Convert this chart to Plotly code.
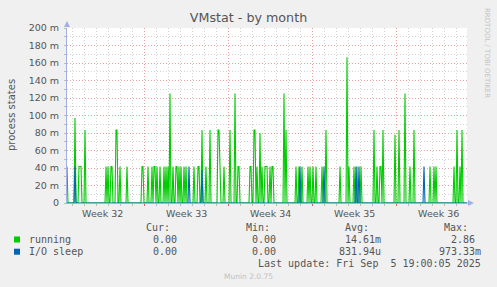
import plotly.graph_objects as go
import pandas as pd

# ---------------- data ----------------
START = pd.Timestamp("2025-08-03 12:40")
N_BINS = 401                      # 2-hour consolidated samples
BIN_HOURS = 2
END = START + pd.Timedelta(hours=BIN_HOURS * (N_BINS - 1))

# running spikes: (sample index, value in milli-processes)
running_spikes = [
    (0, 41.7), (8, 97.0), (12, 41.7), (13, 41.7), (14, 41.7), (18, 83.3),
    (39, 41.7), (41, 41.7), (44, 41.7), (45, 41.7), (49, 83.3), (50, 83.3),
    (53, 41.7), (60, 41.7), (75, 41.7), (76, 41.7), (81, 41.7), (85, 41.7),
    (87, 41.7), (88, 41.7), (90, 41.7), (93, 41.7), (97, 41.7), (99, 41.7),
    (101, 41.7), (103, 125.0), (106, 41.7), (109, 41.7), (110, 41.7),
    (112, 41.7), (114, 41.7), (117, 41.7), (119, 41.7), (127, 41.7),
    (131, 41.7), (132, 41.7), (135, 83.3), (139, 41.7), (143, 83.3),
    (151, 83.3), (152, 83.3), (153, 41.7), (157, 41.7), (163, 83.3),
    (168, 125.0), (171, 41.7), (172, 41.7), (183, 41.7), (184, 41.7),
    (187, 83.3), (188, 83.3), (190, 41.7), (193, 80.0), (195, 41.7),
    (198, 41.7), (199, 41.7), (200, 41.7), (203, 41.7), (205, 41.7),
    (206, 41.7), (217, 125.0), (219, 83.3), (229, 41.7), (232, 41.7),
    (235, 41.7), (241, 41.7), (243, 41.7), (246, 41.7), (249, 41.7),
    (255, 41.7), (259, 83.3), (273, 41.7), (280, 166.7), (282, 41.7),
    (287, 41.7), (290, 41.7), (294, 41.7), (307, 83.3), (310, 41.7),
    (313, 41.7), (314, 41.7), (316, 83.3), (328, 78.0), (332, 83.3),
    (338, 125.0), (343, 41.7), (347, 83.3), (363, 41.7), (367, 41.7),
    (369, 41.7), (387, 41.7), (390, 83.3), (393, 41.7), (395, 83.3),
]
# I/O sleep spikes: (sample index, value in milli-processes)
iosleep_spikes = [
    (8, 41.7), (122, 41.7), (135, 38.0), (233, 41.7), (257, 41.7),
    (289, 41.7), (292, 41.7), (357, 41.7),
]

y_tick_values = [0, 20, 40, 60, 80, 100, 120, 140, 160, 180, 200]
y_tick_labels = ["0", "20 m", "40 m", "60 m", "80 m", "100 m", "120 m",
                 "140 m", "160 m", "180 m", "200 m"]
week_label_dates = ["2025-08-06 12:00", "2025-08-13 12:00", "2025-08-20 12:00",
                    "2025-08-27 12:00", "2025-09-03 12:00"]
week_labels = ["Week 32", "Week 33", "Week 34", "Week 35", "Week 36"]

legend_rows = [
    ("running", "#00CC00", "0.00", "0.00", "14.61m", "2.86"),
    ("I/O sleep", "#0066B3", "0.00", "0.00", "831.94u", "973.33m"),
]
last_update = "Last update: Fri Sep \u00a05 19:00:05 2025"

# ---------------- build series ----------------
times = [START + pd.Timedelta(hours=BIN_HOURS * i) for i in range(N_BINS)]
running = [0.0] * N_BINS
for i, v in running_spikes:
    running[i] = v
iosleep = [0.0] * N_BINS
for i, v in iosleep_spikes:
    iosleep[i] = v

# ---------------- figure ----------------
W, H = 497, 287
L, R, T, B = 67, 30, 28, 84
PW, PH = W - L - R, H - T - B


def X(px):
    return (px - L) / PW


def Y(py):
    return (H - B - py) / PH


TXT = "#555555"
AXIS = "#A3AEE6"
MGRID = "#EBA0A0"
GRID = "#D2D2D2"

fig = go.Figure()
fig.add_trace(go.Scatter(x=times, y=running, mode="lines",
                         line=dict(color="#00CC00", width=1.1),
                         name="running", hoverinfo="skip"))
fig.add_trace(go.Scatter(x=times, y=iosleep, mode="lines",
                         line=dict(color="#0066B3", width=1.1),
                         name="I/O sleep", hoverinfo="skip"))
# invisible helper trace so the label axis is drawn
fig.add_trace(go.Scatter(x=week_label_dates, y=[0] * len(week_label_dates),
                         xaxis="x2", mode="markers",
                         marker=dict(opacity=0), hoverinfo="skip",
                         showlegend=False))

week_ms = 7 * 86400000
day_ms = 86400000

fig.update_layout(
    width=W, height=H, autosize=False,
    margin=dict(l=L, r=R, t=T, b=B, pad=0),
    paper_bgcolor="#F0F0F0", plot_bgcolor="#FFFFFF",
    showlegend=False,
    font=dict(family="DejaVu Sans", color=TXT, size=9.5),
    title=dict(text="VMstat - by month", x=0.5, xref="container",
               y=1 - 18 / H, yref="container", xanchor="center",
               yanchor="middle",
               font=dict(family="DejaVu Sans", size=12.7, color=TXT)),
    xaxis=dict(type="date", range=[START, END], showticklabels=False,
               tick0="2025-08-03", dtick=week_ms,
               showgrid=True, gridcolor=MGRID, griddash="1px,2px",
               gridwidth=1,
               ticks="outside", ticklen=2, tickcolor="#E06060",
               showline=True, linecolor=AXIS, linewidth=1,
               minor=dict(tick0="2025-08-03", dtick=day_ms, showgrid=True,
                          gridcolor=GRID, griddash="1px,2px", gridwidth=1,
                          ticks="outside", ticklen=2, tickcolor="#BBBBBB"),
               fixedrange=True),
    xaxis2=dict(type="date", range=[START, END], overlaying="x",
                anchor="y", side="bottom",
                tickvals=week_label_dates, ticktext=week_labels,
                showgrid=False, ticks="", showline=False,
                tickfont=dict(family="DejaVu Sans", size=9.5, color=TXT),
                ticklabelstandoff=3),
    yaxis=dict(range=[0, 200], tickvals=y_tick_values,
               ticktext=y_tick_labels,
               showgrid=True, gridcolor=MGRID, griddash="1px,2px",
               gridwidth=1, zeroline=False,
               ticks="outside", ticklen=2, tickcolor="#BBBBBB",
               showline=True, linecolor=AXIS, linewidth=1,
               tickfont=dict(family="DejaVu Sans", size=9.5, color=TXT),
               ticklabelstandoff=3,
               minor=dict(dtick=10, showgrid=True, gridcolor=GRID,
                          griddash="1px,2px", gridwidth=1,
                          ticks="outside", ticklen=2, tickcolor="#BBBBBB"),
               fixedrange=True),
)

ann = []
shapes = []

# y-axis title
ann.append(dict(text="process states", x=X(11), y=Y(115), xref="paper",
                yref="paper", textangle=-90, showarrow=False,
                xanchor="center", yanchor="middle",
                font=dict(family="DejaVu Sans", size=10, color=TXT)))
# rrdtool credit
ann.append(dict(text="RRDTOOL / TOBI OETIKER", x=X(487), y=Y(53),
                xref="paper", yref="paper", textangle=90, showarrow=False,
                xanchor="center", yanchor="middle",
                font=dict(family="DejaVu Sans", size=7, color="#C4C4C4")))

MONO = "DejaVu Sans Mono"
# legend header
for txt, right in zip(["Cur:", "Min:", "Avg:", "Max:"], [172, 272, 371, 470]):
    ann.append(dict(text=txt, x=X(right), y=Y(227), xref="paper",
                    yref="paper", showarrow=False, xanchor="right",
                    yanchor="middle",
                    font=dict(family=MONO, size=10, color=TXT)))

row_y = [239.5, 251.7]
col_right = [179, 278, 383]
max_right = [477, 483]
for k, (name, col, cur, mn, avg, mx) in enumerate(legend_rows):
    yy = row_y[k]
    shapes.append(dict(type="rect", xref="paper", yref="paper",
                       x0=X(14), x1=X(20), y0=Y(yy + 3), y1=Y(yy - 3),
                       fillcolor=col, line=dict(width=0)))
    ann.append(dict(text=name, x=X(26.5), y=Y(yy), xref="paper",
                    yref="paper", showarrow=False, xanchor="left",
                    yanchor="middle",
                    font=dict(family=MONO, size=10, color=TXT)))
    for txt, right in zip([cur, mn, avg], col_right):
        ann.append(dict(text=txt, x=X(right), y=Y(yy), xref="paper",
                        yref="paper", showarrow=False, xanchor="right",
                        yanchor="middle",
                        font=dict(family=MONO, size=10, color=TXT)))
    ann.append(dict(text=mx, x=X(max_right[k]), y=Y(yy), xref="paper",
                    yref="paper", showarrow=False, xanchor="right",
                    yanchor="middle",
                    font=dict(family=MONO, size=10, color=TXT)))

ann.append(dict(text=last_update, x=X(482.5), y=Y(263), xref="paper",
                yref="paper", showarrow=False, xanchor="right",
                yanchor="middle", font=dict(family=MONO, size=10, color=TXT)))
ann.append(dict(text="Munin 2.0.75", x=X(248), y=Y(276), xref="paper",
                yref="paper", showarrow=False, xanchor="center",
                yanchor="middle",
                font=dict(family="DejaVu Sans", size=7.5, color="#C0C0C0")))

# axis arrows
shapes.append(dict(type="path", xref="paper", yref="paper",
                   path=f"M {X(64)} {Y(27)} L {X(70)} {Y(27)} L {X(67)} {Y(21)} Z",
                   fillcolor=AXIS, line=dict(width=0)))
shapes.append(dict(type="path", xref="paper", yref="paper",
                   path=f"M {X(468)} {Y(200)} L {X(468)} {Y(206)} L {X(474)} {Y(203)} Z",
                   fillcolor=AXIS, line=dict(width=0)))
shapes.append(dict(type="line", xref="paper", yref="paper",
                   x0=X(467), x1=X(468), y0=0, y1=0,
                   line=dict(color=AXIS, width=1)))

fig.update_layout(annotations=ann, shapes=shapes)

fig.write_html("out.html")
